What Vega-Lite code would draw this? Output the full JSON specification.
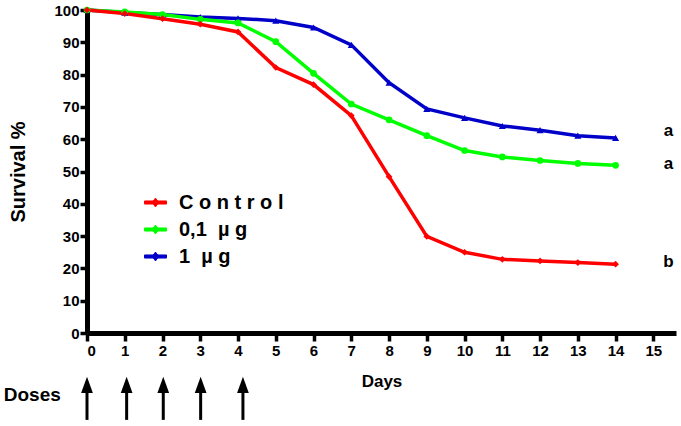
{
  "$schema": "https://vega.github.io/schema/vega-lite/v6.json",
  "width": 589,
  "height": 323,
  "autosize": {"type": "none"},
  "padding": {"left": 87, "top": 10, "right": 5, "bottom": 93},
  "background": "#ffffff",
  "config": {
    "view": {"stroke": null},
    "font": "Liberation Sans",
    "axis": {
      "grid": false,
      "domainColor": "#000000",
      "domainWidth": 5,
      "tickColor": "#000000",
      "tickWidth": 3.5,
      "labelColor": "#000000",
      "labelFontWeight": "bold",
      "labelFontSize": 15,
      "labelOverlap": false,
      "labelBound": false,
      "titleColor": "#000000",
      "titleFontWeight": "bold"
    },
    "axisX": {"tickCount": 16},
    "axisY": {"tickCount": 11},
    "legend": {
      "orient": "none",
      "legendX": 57,
      "legendY": 181,
      "padding": 0,
      "symbolType": "M-1,-0.14H1V0.14H-1Z M0,-0.4L0.3,0L0,0.4L-0.3,0Z",
      "symbolSize": 484,
      "symbolStrokeWidth": 1,
      "symbolOpacity": 1,
      "rowPadding": 5,
      "labelOffset": 12,
      "labelFontSize": 20,
      "labelFontWeight": "bold",
      "labelColor": "#000000",
      "labelLimit": 300
    }
  },
  "datasets": {
    "survival": [
      {"day": 0, "group": "1 µg", "survival": 100},
      {"day": 1, "group": "1 µg", "survival": 99.2},
      {"day": 2, "group": "1 µg", "survival": 98.6},
      {"day": 3, "group": "1 µg", "survival": 97.8},
      {"day": 4, "group": "1 µg", "survival": 97.4},
      {"day": 5, "group": "1 µg", "survival": 96.7},
      {"day": 6, "group": "1 µg", "survival": 94.6},
      {"day": 7, "group": "1 µg", "survival": 89.2},
      {"day": 8, "group": "1 µg", "survival": 77.5},
      {"day": 9, "group": "1 µg", "survival": 69.4},
      {"day": 10, "group": "1 µg", "survival": 66.6},
      {"day": 11, "group": "1 µg", "survival": 64.1},
      {"day": 12, "group": "1 µg", "survival": 62.8},
      {"day": 13, "group": "1 µg", "survival": 61.1},
      {"day": 14, "group": "1 µg", "survival": 60.4},
      {"day": 0, "group": "0,1 µg", "survival": 100},
      {"day": 1, "group": "0,1 µg", "survival": 99.4},
      {"day": 2, "group": "0,1 µg", "survival": 98.6},
      {"day": 3, "group": "0,1 µg", "survival": 97.1},
      {"day": 4, "group": "0,1 µg", "survival": 96},
      {"day": 5, "group": "0,1 µg", "survival": 90.2},
      {"day": 6, "group": "0,1 µg", "survival": 80.4},
      {"day": 7, "group": "0,1 µg", "survival": 70.9},
      {"day": 8, "group": "0,1 µg", "survival": 66},
      {"day": 9, "group": "0,1 µg", "survival": 61.1},
      {"day": 10, "group": "0,1 µg", "survival": 56.5},
      {"day": 11, "group": "0,1 µg", "survival": 54.5},
      {"day": 12, "group": "0,1 µg", "survival": 53.4},
      {"day": 13, "group": "0,1 µg", "survival": 52.5},
      {"day": 14, "group": "0,1 µg", "survival": 51.9},
      {"day": 0, "group": "Control", "survival": 100},
      {"day": 1, "group": "Control", "survival": 98.9},
      {"day": 2, "group": "Control", "survival": 97.3},
      {"day": 3, "group": "Control", "survival": 95.6},
      {"day": 4, "group": "Control", "survival": 93.2},
      {"day": 5, "group": "Control", "survival": 82.2},
      {"day": 6, "group": "Control", "survival": 76.9},
      {"day": 7, "group": "Control", "survival": 67.3},
      {"day": 8, "group": "Control", "survival": 48.4},
      {"day": 9, "group": "Control", "survival": 29.9},
      {"day": 10, "group": "Control", "survival": 25},
      {"day": 11, "group": "Control", "survival": 22.8},
      {"day": 12, "group": "Control", "survival": 22.3},
      {"day": 13, "group": "Control", "survival": 21.8},
      {"day": 14, "group": "Control", "survival": 21.3}
    ],
    "letters": [
      {"day": 15.4, "survival": 62.5, "letter": "a"},
      {"day": 15.4, "survival": 52.3, "letter": "a"},
      {"day": 15.4, "survival": 22.1, "letter": "b"}
    ],
    "doses": [
      {"day": 0},
      {"day": 1.05},
      {"day": 2.02},
      {"day": 3.01},
      {"day": 4.13}
    ]
  },
  "layer": [
    {
      "encoding": {
        "x": {
          "field": "day",
          "type": "quantitative",
          "scale": {"domain": [0, 15.6], "nice": false},
          "title": "Days",
          "axis": {
            "values": [0, 1, 2, 3, 4, 5, 6, 7, 8, 9, 10, 11, 12, 13, 14, 15],
            "tickSize": 8,
            "labelPadding": 2,
            "titleFontSize": 17,
            "titlePadding": 15
          }
        },
        "y": {
          "field": "survival",
          "type": "quantitative",
          "scale": {"domain": [0, 100], "nice": false},
          "title": "Survival %",
          "axis": {
            "values": [0, 10, 20, 30, 40, 50, 60, 70, 80, 90, 100],
            "tickSize": 7,
            "labelPadding": 1,
            "titleFontSize": 20,
            "titlePadding": 25
          }
        }
      },
      "layer": [
        {
          "data": {"name": "survival"},
          "mark": {"type": "line", "strokeWidth": 3.5},
          "encoding": {
            "color": {
              "field": "group",
              "type": "nominal",
              "scale": {
                "domain": ["Control", "0,1 µg", "1 µg"],
                "range": ["#ff0000", "#00ff00", "#0000c8"]
              },
              "legend": {
                "title": null,
                "labelExpr": "datum.label == 'Control' ? 'C o n t r o l' : datum.label == '0,1 µg' ? '\u00a00,1\u00a0\u00a0µ g' : '\u00a01\u00a0\u00a0µ g'"
              }
            }
          }
        },
        {
          "data": {"name": "survival"},
          "transform": [{"filter": "datum.group == '1 µg'"}],
          "mark": {"type": "point", "shape": "triangle-up", "filled": true, "opacity": 1, "size": 50},
          "encoding": {"color": {"field": "group", "type": "nominal"}}
        },
        {
          "data": {"name": "survival"},
          "transform": [{"filter": "datum.group == '0,1 µg'"}],
          "mark": {"type": "point", "shape": "circle", "filled": true, "opacity": 1, "size": 45},
          "encoding": {"color": {"field": "group", "type": "nominal"}}
        },
        {
          "data": {"name": "survival"},
          "transform": [{"filter": "datum.group == 'Control'"}],
          "mark": {"type": "point", "shape": "diamond", "filled": true, "opacity": 1, "size": 45},
          "encoding": {"color": {"field": "group", "type": "nominal"}}
        },
        {
          "data": {"name": "letters"},
          "mark": {"type": "text", "fontSize": 17, "fontWeight": "bold", "color": "#000000", "clip": false},
          "encoding": {"text": {"field": "letter"}}
        }
      ]
    },
    {
      "data": {"name": "doses"},
      "mark": {"type": "rule", "strokeWidth": 3, "color": "#000000", "clip": false},
      "encoding": {
        "x": {"field": "day", "type": "quantitative"},
        "y": {"datum": -17},
        "y2": {"datum": -26.9}
      }
    },
    {
      "data": {"name": "doses"},
      "mark": {
        "type": "point",
        "shape": "M0,-1L0.72,1L-0.72,1Z",
        "filled": true,
        "opacity": 1,
        "size": 266,
        "color": "#000000",
        "clip": false
      },
      "encoding": {
        "x": {"field": "day", "type": "quantitative"},
        "y": {"datum": -16.05}
      }
    },
    {
      "data": {"values": [{"label": "Doses"}]},
      "mark": {"type": "text", "fontSize": 19, "fontWeight": "bold", "color": "#000000", "clip": false},
      "encoding": {
        "x": {"datum": -1.45},
        "y": {"datum": -19.2},
        "text": {"field": "label"}
      }
    }
  ]
}
